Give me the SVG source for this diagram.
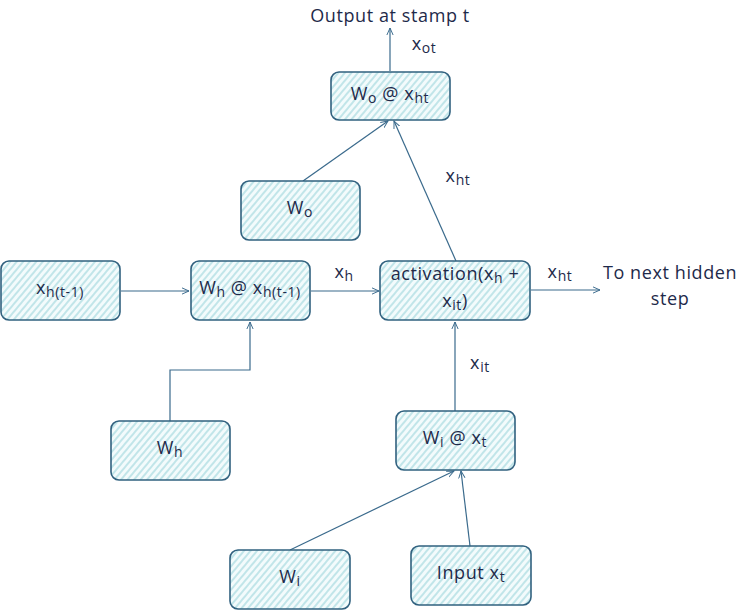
<svg xmlns="http://www.w3.org/2000/svg" width="741" height="611" viewBox="0 0 741 611">
<defs>
<pattern id="hatch" width="5" height="5" patternUnits="userSpaceOnUse" patternTransform="rotate(40)">
<rect width="5" height="5" fill="#f3fbfc"/>
<line x1="1" y1="0" x2="1" y2="5" stroke="#98d3da" stroke-width="1.1"/>
</pattern>
<marker id="arr" viewBox="0 0 10 10" refX="9" refY="5" markerWidth="8" markerHeight="8" orient="auto-start-reverse" markerUnits="userSpaceOnUse">
<path d="M0,1 L9,5 L0,9" fill="none" stroke="#3a6a8c" stroke-width="1.2"/>
</marker>
</defs>
<style>
.box{fill:url(#hatch);stroke:#31617f;stroke-width:1.6}
.t{font-family:"Open Sans","Liberation Sans",sans-serif;font-size:18px;letter-spacing:0.6px;fill:#1e2a4a;text-anchor:middle;dominant-baseline:central}
.s{font-size:14px}
.c{fill:none;stroke:#3a6a8c;stroke-width:1.2;marker-end:url(#arr)}
</style>
<rect width="741" height="611" fill="#ffffff"/>
<g id="connectors">
<path class="c" d="M390,71 L390,28"/>
<path class="c" d="M303,181 L388,121"/>
<path class="c" d="M456,261 L394,121"/>
<path class="c" d="M121,291 L189,291"/>
<path class="c" d="M311,291 L379,291"/>
<path class="c" d="M531,290 L600,290"/>
<path class="c" d="M170,421 L170,370 L250,370 L250,322"/>
<path class="c" d="M455,411 L455,322"/>
<path class="c" d="M290,550 L454,471"/>
<path class="c" d="M470,546 L461,471"/>
</g>
<g id="labels">
<text class="t" x="390" y="15">Output at stamp t</text>
<text class="t" x="424" y="43">x<tspan class="s" dy="4">ot</tspan></text>
<text class="t" x="458" y="175">x<tspan class="s" dy="4">ht</tspan></text>
<text class="t" x="344" y="271">x<tspan class="s" dy="4">h</tspan></text>
<text class="t" x="560" y="271">x<tspan class="s" dy="4">ht</tspan></text>
<text class="t" x="670" y="272">To next hidden</text>
<text class="t" x="670" y="298">step</text>
<text class="t" x="480" y="362">x<tspan class="s" dy="4">it</tspan></text>
</g>
<g id="node-wo-xht">
<rect class="box" x="331" y="72" width="119" height="48" rx="8"/>
<text class="t" x="390" y="93">W<tspan class="s" dy="4">o</tspan><tspan dy="-4"> @ x</tspan><tspan class="s" dy="4">ht</tspan></text>
</g>
<g id="node-wo">
<rect class="box" x="241" y="181" width="119" height="59" rx="8"/>
<text class="t" x="300" y="207">W<tspan class="s" dy="4">o</tspan></text>
</g>
<g id="node-xh-prev">
<rect class="box" x="1" y="261" width="119" height="59" rx="8"/>
<text class="t" x="60" y="287">x<tspan class="s" dy="4">h(t-1)</tspan></text>
</g>
<g id="node-wh-xh">
<rect class="box" x="191" y="261" width="119" height="59" rx="8"/>
<text class="t" x="250" y="287">W<tspan class="s" dy="4">h</tspan><tspan dy="-4"> @ x</tspan><tspan class="s" dy="4">h(t-1)</tspan></text>
</g>
<g id="node-activation">
<rect class="box" x="380" y="261" width="150" height="59" rx="8"/>
<text class="t" x="455" y="273">activation(x<tspan class="s" dy="4">h</tspan><tspan dy="-4"> +</tspan></text>
<text class="t" x="455" y="300">x<tspan class="s" dy="4">it</tspan><tspan dy="-4">)</tspan></text>
</g>
<g id="node-wh">
<rect class="box" x="111" y="421" width="119" height="59" rx="8"/>
<text class="t" x="170" y="447">W<tspan class="s" dy="4">h</tspan></text>
</g>
<g id="node-wi-xt">
<rect class="box" x="396" y="411" width="119" height="59" rx="8"/>
<text class="t" x="455" y="437">W<tspan class="s" dy="4">i</tspan><tspan dy="-4"> @ x</tspan><tspan class="s" dy="4">t</tspan></text>
</g>
<g id="node-wi">
<rect class="box" x="230" y="550" width="120" height="59" rx="8"/>
<text class="t" x="290" y="576">W<tspan class="s" dy="4">i</tspan></text>
</g>
<g id="node-input">
<rect class="box" x="411" y="546" width="120" height="59" rx="8"/>
<text class="t" x="471" y="572">Input x<tspan class="s" dy="4">t</tspan></text>
</g>
</svg>
